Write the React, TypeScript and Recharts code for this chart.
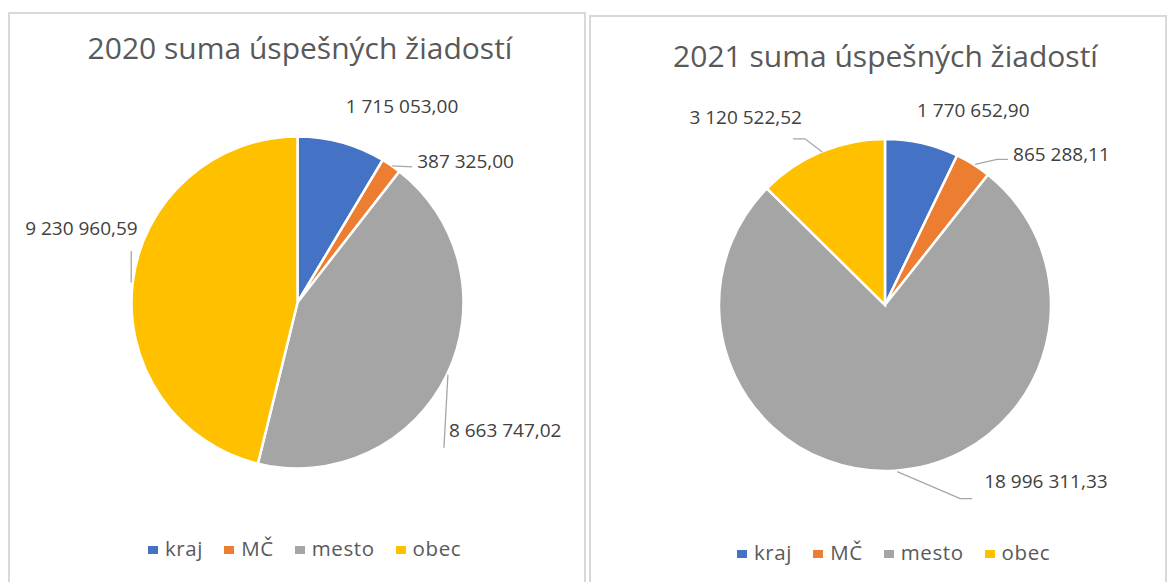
import { PieChart, Pie, Cell, Legend } from 'recharts'

const categories = ['kraj', 'MČ', 'mesto', 'obec']
const colors = ['#4472C4', '#ED7D31', '#A5A5A5', '#FFC000']
const values2020 = [1715053.0, 387325.0, 8663747.02, 9230960.59]
const values2021 = [1770652.9, 865288.11, 18996311.33, 3120522.52]

const FONT = '"Open Sans", "DejaVu Sans", sans-serif'
const RAD = Math.PI / 180

// label placement relative to the point where the slice's mid angle meets the rim
type LabelPos = { dx: number; dy: number; anchor: 'start' | 'end'; leader?: number[][] }

const labels2020: LabelPos[] = [
  { dx: 4, dy: -36.5, anchor: 'start' },
  { dx: 26, dy: -4.5, anchor: 'start', leader: [[1, 0.5], [21, 1.5]] },
  { dx: 2, dy: 55, anchor: 'start', leader: [[1, 0], [-3, 73]] },
  { dx: 5, dy: -54.5, anchor: 'end', leader: [[-1.5, 0], [-1.5, -31.5]] },
]

const labels2021: LabelPos[] = [
  { dx: -5, dy: -33, anchor: 'start' },
  { dx: 40, dy: -10, anchor: 'start', leader: [[2, 0], [24, -5], [35, -5]] },
  { dx: 89, dy: 10, anchor: 'start', leader: [[2, 1], [65, 28], [77, 28]] },
  { dx: -19, dy: -35, anchor: 'end', leader: [[1, 0], [-16, -13], [-28, -13]] },
]

function fmt(v: number) {
  const [i, d] = v.toFixed(2).split('.')
  return i.replace(/\B(?=(\d{3})+(?!\d))/g, ' ') + ',' + d
}

const makeLabel = (layout: LabelPos[]) => (props: any) => {
  const { cx, cy, midAngle, outerRadius, index, value } = props
  const ex = cx + outerRadius * Math.cos(-midAngle * RAD)
  const ey = cy + outerRadius * Math.sin(-midAngle * RAD)
  const l = layout[index]
  return (
    <g key={`lbl-${index}`}>
      {l.leader && (
        <polyline
          points={l.leader.map(([x, y]) => `${ex + x},${ey + y}`).join(' ')}
          fill="none"
          stroke="#A6A6A6"
          strokeWidth={1.3}
        />
      )}
      <text
        x={ex + l.dx}
        y={ey + l.dy}
        textAnchor={l.anchor}
        dominantBaseline="central"
        fill="#404040"
        fontSize={19}
        fontFamily={FONT}
      >
        {fmt(value)}
      </text>
    </g>
  )
}

const LegendRow = () => (
  <div
    style={{
      display: 'flex',
      alignItems: 'center',
      fontFamily: FONT,
      fontSize: 20.5,
      letterSpacing: 0.6,
      lineHeight: '20px',
      color: '#595959',
    }}
  >
    {categories.map((c, i) => (
      <div key={c} style={{ display: 'flex', alignItems: 'center', marginRight: 21 }}>
        <span style={{ width: 10, height: 8, background: colors[i], marginRight: 7, marginTop: 3 }} />
        <span>{c}</span>
      </div>
    ))}
  </div>
)

interface CardProps {
  title: string
  values: number[]
  layout: LabelPos[]
  left: number
  top: number
  cx: number
  cy: number
  titleX: number
  titleTop: number
  legendLeft: number
  legendTop: number
}

function PieCard({ title, values, layout, left, top, cx, cy, titleX, titleTop, legendLeft, legendTop }: CardProps) {
  const data = categories.map((name, i) => ({ name, value: values[i] }))
  return (
    <div
      style={{
        position: 'absolute',
        left,
        top,
        width: 578,
        height: 620,
        border: '2px solid #D9D9D9',
        boxSizing: 'border-box',
        background: '#fff',
      }}
    >
      <div
        style={{
          position: 'absolute',
          left: titleX,
          top: titleTop,
          transform: 'translateX(-50%)',
          whiteSpace: 'nowrap',
          fontFamily: FONT,
          fontSize: 30,
          lineHeight: '30px',
          color: '#595959',
          zIndex: 2,
        }}
      >
        {title}
      </div>
      <PieChart width={574} height={600}>
        <Pie
          data={data}
          dataKey="value"
          nameKey="name"
          cx={cx}
          cy={cy}
          outerRadius={166}
          startAngle={90}
          endAngle={-270}
          stroke="#fff"
          strokeWidth={2.5}
          label={makeLabel(layout)}
          labelLine={false}
          isAnimationActive={false}
        >
          {data.map((d, i) => (
            <Cell key={d.name} fill={colors[i]} />
          ))}
        </Pie>
        <Legend
          content={() => <LegendRow />}
          wrapperStyle={{ position: 'absolute', left: legendLeft, top: legendTop, width: 'auto', height: 'auto' }}
        />
      </PieChart>
    </div>
  )
}

export default function App() {
  return (
    <div style={{ position: 'fixed', left: 0, top: 0, width: 1168, height: 582, overflow: 'hidden', background: '#fff' }}>
      <PieCard
        title="2020 suma úspešných žiadostí"
        values={values2020}
        layout={labels2020}
        left={8}
        top={12}
        cx={282.5}
        cy={283.5}
        titleX={290}
        titleTop={19}
        legendLeft={138}
        legendTop={524}
      />
      <PieCard
        title="2021 suma úspešných žiadostí"
        values={values2021}
        layout={labels2021}
        left={589}
        top={15}
        cx={289}
        cy={283}
        titleX={294.5}
        titleTop={24}
        legendLeft={146}
        legendTop={525}
      />
    </div>
  )
}
